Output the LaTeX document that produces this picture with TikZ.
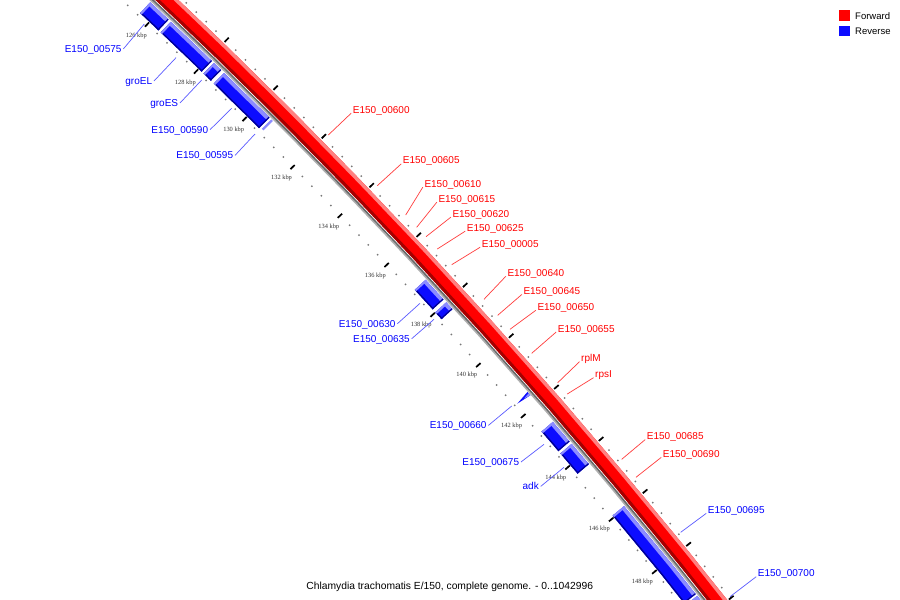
\documentclass[tikz,border=0pt]{standalone}
\usepackage{fontspec}
\setmainfont{Liberation Sans}
\newfontfamily\kbpfont{Liberation Serif}
\definecolor{revmain}{RGB}{12,12,255}
\definecolor{revlight}{RGB}{140,140,255}
\definecolor{revdark}{RGB}{0,0,150}
\definecolor{fwdmain}{RGB}{255,0,0}
\definecolor{fwdlight}{RGB}{255,128,128}
\definecolor{fwddark}{RGB}{165,0,0}
\definecolor{bblight}{RGB}{175,175,175}
\definecolor{bbdark}{RGB}{105,105,105}
\definecolor{dotc}{RGB}{120,120,120}
\definecolor{flabel}{RGB}{255,0,0}
\definecolor{rlabel}{RGB}{0,0,255}
\definecolor{fline}{RGB}{255,60,60}
\definecolor{rline}{RGB}{90,90,255}
\tikzset{
  declare function={bpang(\zz)=-45.24+(\zz-130)*0.345164;},
  flbl/.style={font=\fontsize{10}{12}\selectfont, text=flabel, inner sep=0pt, anchor=base west},
  rlbl/.style={font=\fontsize{10}{12}\selectfont, text=rlabel, inner sep=0pt, anchor=base east},
  rlblr/.style={font=\fontsize{10}{12}\selectfont, text=rlabel, inner sep=0pt, anchor=base west},
  fwdline/.style={draw=fline, line width=0.7pt},
  revline/.style={draw=rline, line width=0.7pt},
  majtick/.style={draw=black, line width=1.7pt},
  ticklbl/.style={font=\kbpfont\fontsize{6.4}{7}\selectfont, text=black!80, inner sep=0pt},
  legsq/.style={minimum width=10.7pt, minimum height=10.5pt, inner sep=0pt, draw=none},
  legtxt/.style={font=\fontsize{9.5}{11}\selectfont, inner sep=0pt, anchor=base west}
}
\newcommand\arcband[6][4]{\fill[#6] plot[domain=#2:#3,samples=#1] ({bpang(\x)}:#4) -- plot[domain=#3:#2,samples=#1] ({bpang(\x)}:#5) -- cycle;}
\newcommand\revgene[2]{%
  \arcband{#1}{#2}{5638.6}{5653.4}{revmain}%
  \arcband{#1}{#2}{5649.8}{5653.4}{revlight}%
  \arcband{#1}{#2}{5638.6}{5640.0}{revdark}%
  \pgfmathsetmacro\capb{#1+0.06}%
  \arcband{#1}{\capb}{5638.6}{5653.4}{revlight}%
  \pgfmathsetmacro\endb{#2-0.035}%
  \arcband{\endb}{#2}{5638.6}{5653.4}{revdark}%
}
\begin{document}
\begin{tikzpicture}[x=1pt,y=-1pt]
\useasboundingbox (0,0) rectangle (900,600);
\fill[white] (0,0) rectangle (900,600);
\begin{scope}
\clip (0,0) rectangle (900,600);
\begin{scope}[shift={(-3723,4120)}]
  % forward band
  \arcband[40]{123}{152}{5658.6}{5674.4}{fwdmain}
  \arcband[40]{123}{152}{5671.0}{5674.4}{fwdlight}
  \arcband[40]{123}{152}{5658.6}{5661.6}{fwddark}
  % backbone
  \arcband[40]{123}{152}{5654.4}{5656.0}{bblight}
  \arcband[40]{123}{152}{5656.0}{5657.6}{bbdark}
  % reverse genes
  \revgene{125.62}{126.36}
  \revgene{126.45}{128.12}
  \revgene{128.20}{128.50}
  \revgene{128.62}{130.49}
  \arcband{130.56}{130.63}{5640}{5653.4}{revlight}
  \revgene{137.10}{137.88}
  \revgene{138.00}{138.27}
  \fill[revmain] ({bpang(141.61)}:5638.6) -- ({bpang(141.55)}:5654) -- ({bpang(141.68)}:5654) -- cycle;
  \fill[revlight] ({bpang(141.63)}:5647) -- ({bpang(141.60)}:5654) -- ({bpang(141.68)}:5654) -- cycle;
  \revgene{142.70}{143.46}
  \revgene{143.55}{144.33}
  \revgene{145.94}{149.27}
  \revgene{149.34}{152.00}
  % minor dots
  \foreach \i in {308,...,380}{
    \pgfmathsetmacro\q{\i*0.4}
    \fill[dotc] ({bpang(\q)}:5635.5) circle[radius=1pt];
    \fill[dotc] ({bpang(\q)}:5677.8) circle[radius=1pt];
  }
  % major ticks
  \foreach \q in {124,126,...,152}{
    \draw[majtick] ({bpang(\q)}:5632) -- ({bpang(\q)}:5638);
    \draw[majtick] ({bpang(\q)}:5676) -- ({bpang(\q)}:5682);
  }
  % tick labels
  \foreach \q in {126,128,...,148}{
    \node[ticklbl] (k\q) at ({bpang(\q)}:5619.5) {\q\ kbp};
  }
\end{scope}
\end{scope}

% forward labels
\node[flbl] (f600) at (352.7,113.2) {E150\_00600};
\node[flbl] (f605) at (402.7,163.9) {E150\_00605};
\node[flbl] (f610) at (424.3,187.2) {E150\_00610};
\node[flbl] (f615) at (438.3,202.2) {E150\_00615};
\node[flbl] (f620) at (452.3,217.2) {E150\_00620};
\node[flbl] (f625) at (466.7,231.2) {E150\_00625};
\node[flbl] (f005) at (481.7,247.2) {E150\_00005};
\node[flbl] (f640) at (507.3,276.3) {E150\_00640};
\node[flbl] (f645) at (523.3,294.5) {E150\_00645};
\node[flbl] (f650) at (537.3,310.3) {E150\_00650};
\node[flbl] (f655) at (557.7,332.0) {E150\_00655};
\node[flbl] (frplM) at (581,361.7) {rplM};
\node[flbl] (frpsI) at (595,377.7) {rpsI};
\node[flbl] (f685) at (646.7,439.6) {E150\_00685};
\node[flbl] (f690) at (662.7,457.4) {E150\_00690};
\coordinate (e600) at (328.3,135);
\coordinate (e605) at (377.3,185.7);
\coordinate (e610) at (405.7,215);
\coordinate (e615) at (416.7,227.3);
\coordinate (e620) at (426,236.7);
\coordinate (e625) at (437.3,249);
\coordinate (e005) at (451.7,264.7);
\coordinate (e640) at (484,299.3);
\coordinate (e645) at (497.7,315.3);
\coordinate (e650) at (510,329.3);
\coordinate (e655) at (531.7,353.3);
\coordinate (erplM) at (557.7,382.7);
\coordinate (erpsI) at (567.3,394);
\coordinate (e685) at (621.7,459.3);
\coordinate (e690) at (636,477.3);
\foreach \n in {600,605,610,615,620,625,005,640,645,650,655,rplM,rpsI,685,690}{
  \draw[fwdline] ([xshift=-1.5pt]f\n.base west) -- (e\n);
}

% reverse labels
\node[rlbl] (r575) at (121.7,52.4) {E150\_00575};
\node[rlbl] (rgroEL) at (152.3,84.5) {groEL};
\node[rlbl] (rgroES) at (178.3,106.5) {groES};
\node[rlbl] (r590) at (208.3,133.2) {E150\_00590};
\node[rlbl] (r595) at (233.3,158.9) {E150\_00595};
\node[rlbl] (r630) at (395.7,327.2) {E150\_00630};
\node[rlbl] (r635) at (410,342.2) {E150\_00635};
\node[rlbl] (r660) at (486.7,428.9) {E150\_00660};
\node[rlbl] (r675) at (519.3,465.5) {E150\_00675};
\node[rlbl] (radk) at (539,489.9) {adk};
\coordinate (s575) at (144.3,24);
\coordinate (sgroEL) at (176,57.7);
\coordinate (sgroES) at (201.7,80);
\coordinate (s590) at (231.7,108.3);
\coordinate (s595) at (255,134);
\coordinate (s630) at (420,303.3);
\coordinate (s635) at (434,319.3);
\coordinate (s660) at (511.7,406);
\coordinate (s675) at (544,444.3);
\coordinate (sadk) at (564,467.3);
\foreach \n in {575,groEL,groES,590,595,630,635,660,675,adk}{
  \draw[revline] ([xshift=1.7pt,yshift=3.5pt]r\n.base east) -- (s\n);
}
\node[rlblr] (r695) at (707.7,513.4) {E150\_00695};
\node[rlblr] (r700) at (757.7,576.7) {E150\_00700};
\coordinate (s695) at (680.7,532.3);
\coordinate (s700) at (730,596.7);
\draw[revline] ([xshift=-1.5pt]r695.base west) -- (s695);
\draw[revline] ([xshift=-1.5pt]r700.base west) -- (s700);

% legend
\node[legsq, fill=fwdmain] (lgf) at (844.6,15.3) {};
\node[legsq, fill=revmain] (lgr) at (844.6,30.8) {};
\node[legtxt] (lgft) at (855,19.2) {Forward};
\node[legtxt] (lgrt) at (855,34.8) {Reverse};

% title
\node[font=\fontsize{10.3}{12}\selectfont, inner sep=0pt, anchor=base] (title) at (449.7,589) {Chlamydia trachomatis E/150, complete genome. - 0..1042996};
\end{tikzpicture}
\end{document}
